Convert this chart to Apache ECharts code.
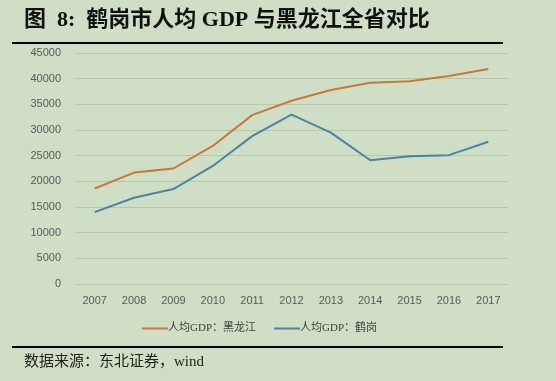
<!DOCTYPE html>
<html><head><meta charset="utf-8">
<script src="https://cdn.jsdelivr.net/npm/echarts@6/dist/echarts.min.js"></script>
<style>html,body{margin:0;padding:0;background:#cfdfc5;}#c{width:556px;height:381px;}</style>
</head><body><div id="c"></div>
<script>
const years = ['2007','2008','2009','2010','2011','2012','2013','2014','2015','2016','2017'];
const heilongjiang = [18600, 21700, 22500, 26900, 32900, 35700, 37800, 39200, 39500, 40500, 41900];
const hegang = [14000, 16800, 18500, 23000, 28800, 33000, 29500, 24100, 24900, 25100, 27700];
const seriesNames = ['人均GDP：黑龙江', '人均GDP：鹤岗'];
const titleText = '图  8:  鹤岗市人均 GDP 与黑龙江全省对比';
const sourceText = '数据来源：东北证券，wind';

const chart = echarts.init(document.getElementById('c'));
chart.setOption({
  backgroundColor: '#cfdfc5',
  animation: false,
  grid: {left: 75, right: 48, top: 53, bottom: 97},
  xAxis: {
    type: 'category', data: years, boundaryGap: true,
    axisLine: {show: false}, axisTick: {show: false},
    axisLabel: {color: '#595959', fontSize: 11, fontFamily: 'Liberation Sans', margin: 11}
  },
  yAxis: {
    type: 'value', min: 0, max: 45000, interval: 5000,
    axisLine: {show: false}, axisTick: {show: false},
    axisLabel: {color: '#595959', fontSize: 11, fontFamily: 'Liberation Sans', margin: 14,
      formatter: v => String(v)},
    splitLine: {lineStyle: {color: '#b6c8ac', width: 1}}
  },
  legend: {
    bottom: 42, left: 137, itemWidth: 26, itemHeight: 10, itemGap: 18,
    icon: 'path://M0,4 L26,4 L26,6 L0,6 Z',
    textStyle: {color: '#404040', fontSize: 11, fontFamily: '"Liberation Serif", "Noto Sans CJK SC"', padding: [0,0,0,-5]},
    data: seriesNames
  },
  series: [
    {name: seriesNames[0], type: 'line', data: heilongjiang, symbol: 'none', smooth: false,
     lineStyle: {color: '#c9773a', width: 2}, itemStyle: {color: '#c9773a'}},
    {name: seriesNames[1], type: 'line', data: hegang, symbol: 'none',
     lineStyle: {color: '#4c83a2', width: 2}, itemStyle: {color: '#4c83a2'}}
  ],
  graphic: [
    {type: 'text', left: 24, top: 9, style: {text: titleText, fill: '#111', font: 'bold 22px "Liberation Serif", "Noto Sans CJK SC"'}},
    {type: 'rect', shape: {x: 12, y: 42, width: 491, height: 2}, style: {fill: '#000'}},
    {type: 'rect', shape: {x: 12, y: 346, width: 491, height: 2}, style: {fill: '#000'}},
    {type: 'text', left: 24, top: 355, style: {text: sourceText, fill: '#222', font: '15px "Liberation Serif", "Noto Sans CJK SC"'}}
  ]
});
</script></body></html>
